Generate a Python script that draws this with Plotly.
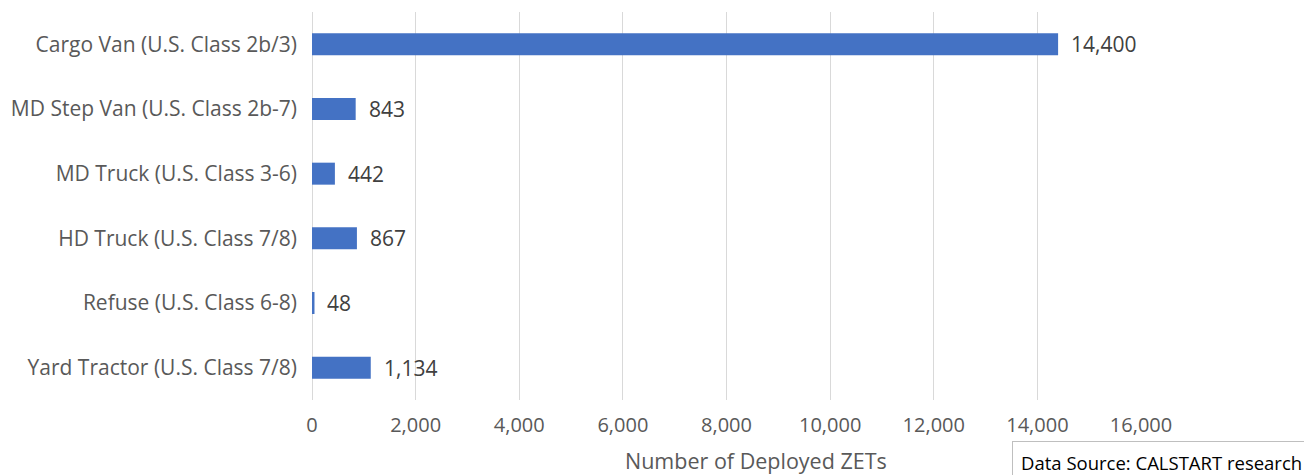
import plotly.graph_objects as go

categories = [
    "Cargo Van (U.S. Class 2b/3)",
    "MD Step Van (U.S. Class 2b-7)",
    "MD Truck (U.S. Class 3-6)",
    "HD Truck (U.S. Class 7/8)",
    "Refuse (U.S. Class 6-8)",
    "Yard Tractor (U.S. Class 7/8)",
]
values = [14400, 843, 442, 867, 48, 1134]
x_ticks = [0, 2000, 4000, 6000, 8000, 10000, 12000, 14000, 16000]
x_tick_labels = ["0", "2,000", "4,000", "6,000", "8,000", "10,000", "12,000", "14,000", "16,000"]

FONT = "Open Sans"
GRAY = "#595959"

# page body has an 8px margin; compensate so the plot lands where the reference has it
W, H = 1304, 467
L, R, T, B = 304, 171, 4, 75
plot_w = W - L - R

fig = go.Figure()
fig.add_trace(go.Bar(
    y=categories,
    x=values,
    orientation="h",
    marker=dict(color="#4472C4", line=dict(width=0)),
    width=0.34,
    hoverinfo="x+y",
))

for c, v in zip(categories, values):
    fig.add_annotation(
        x=v, y=c, text=f"{v:,}", showarrow=False,
        xanchor="left", xshift=11, yanchor="middle",
        font=dict(family=FONT, size=21, color="#404040"),
    )

fig.add_annotation(
    xref="paper", yref="paper", x=(756 - 312) / plot_w, y=-0.155,
    text="Number of Deployed ZETs", showarrow=False,
    xanchor="center", yanchor="middle",
    font=dict(family=FONT, size=21.5, color=GRAY),
)
fig.add_annotation(
    xref="paper", yref="paper", x=(1012 - 312) / plot_w, y=-0.16,
    text="Data Source: CALSTART research", showarrow=False,
    xanchor="left", yanchor="middle",
    font=dict(family=FONT, size=18.5, color="#000000"),
    bordercolor="#bfbfbf", borderwidth=1, borderpad=8, bgcolor="white",
)

fig.update_layout(
    width=W, height=H,
    margin=dict(l=L, r=R, t=T, b=B, autoexpand=False),
    plot_bgcolor="white", paper_bgcolor="white",
    showlegend=False,
    font=dict(family=FONT, size=19, color=GRAY),
)
fig.update_xaxes(
    range=[0, 16000],
    tickvals=x_ticks, ticktext=x_tick_labels,
    showgrid=True, gridcolor="#d9d9d9", gridwidth=1,
    zeroline=True, zerolinecolor="#d9d9d9", zerolinewidth=1,
    showline=False, ticks="", ticklabelstandoff=11,
    tickfont=dict(family=FONT, size=20, color=GRAY),
)
fig.update_yaxes(
    categoryorder="array", categoryarray=categories[::-1],
    showgrid=False, zeroline=False, showline=False,
    ticks="", ticklabelstandoff=14,
    tickfont=dict(family=FONT, size=21, color=GRAY),
)

fig.write_html("out.html")
